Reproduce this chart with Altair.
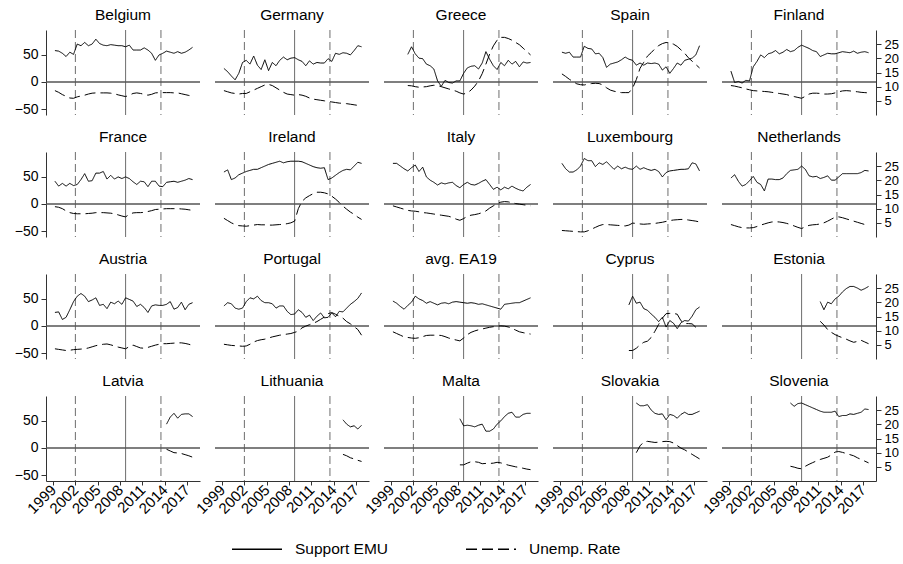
import altair as alt
import pandas as pd

FONT = "Liberation Sans"
N = None

# Half-yearly survey waves, 1999-2017
WAVES = [1999.25 + 0.5 * i for i in range(38)]
X_DOMAIN = [1998.05, 2018.75]
X_TICKS = [1999, 2002, 2005, 2008, 2011, 2014, 2017]
EVENTS_DASHED = [2002.0, 2013.5]
EVENTS_SOLID = [2008.75]

SUPPORT_TICKS = [-50, 0, 50]
UNEMP_TICKS = [5, 10, 15, 20, 25]
SUPPORT_DOMAIN = [-61, 96]
UNEMP_DOMAIN = [0, 30]

# Net support for the euro (left scale) and unemployment rate in % (right scale)
belgium_support = [58, 57, 53, 47, 55, 51, 70, 67, 73, 67, 70, 79, 71, 68, 67, 69, 68, 67, 67, 65,
                   68, 59, 59, 59, 63, 59, 53, 40, 50, 53, 57, 55, 53, 56, 53, 55, 59, 64]
belgium_unemp = [8.6, 8.0, 7.2, 6.6, 6.0, 5.9, 6.4, 6.7, 7.0, 7.4, 7.7, 7.8, 7.8, 7.8, 7.8, 7.7, 7.5, 7.1, 6.8, 6.5,
                 7.0, 7.6, 7.8, 7.6, 7.3, 7.0, 7.3, 7.8, 7.9, 7.9, 7.9, 7.9, 7.8, 7.8, 7.5, 7.2, 6.9, 6.6]

germany_support = [25, 19, 11, 4, 16, 36, 40, 33, 48, 31, 23, 41, 21, 36, 30, 40, 46, 41, 44, 45,
                   41, 38, 30, 39, 33, 36, 35, 35, 43, 38, 53, 51, 54, 53, 50, 58, 67, 65]
germany_unemp = [8.6, 8.2, 7.8, 7.6, 7.4, 7.6, 7.6, 8.2, 8.8, 9.4, 10.0, 10.6, 10.8, 10.4, 9.6, 8.8, 8.0, 7.4, 7.2, 7.0,
                 7.2, 7.0, 6.6, 6.0, 5.6, 5.4, 5.2, 5.0, 4.8, 4.6, 4.4, 4.2, 4.1, 4.0, 3.8, 3.6, 3.4, 3.2]

greece_support = [N, N, N, N, 51, 65, 52, 44, 43, 33, 30, 24, 2, -8, 3, -1, -2, 2, 2, 16,
                  26, 29, 30, 24, 35, 56, 42, 30, 23, 36, 30, 40, 33, 38, 28, 37, 35, 36]
greece_unemp = [N, N, N, N, 10.4, 10.3, 10.0, 9.8, 9.9, 10.0, 10.3, 10.5, 10.4, 10.0, 9.6, 9.2, 8.8, 8.4, 7.8, 7.4,
                7.8, 8.8, 10.2, 12.0, 14.6, 18.0, 21.5, 24.4, 26.4, 27.4, 27.4, 27.0, 26.4, 25.6, 24.8, 23.6, 22.4, 21.2]

spain_support = [55, 53, 55, 46, 46, 46, 66, 62, 61, 52, 53, 45, 27, 33, 35, 37, 41, 46, 42, 40,
                 31, 35, 31, 35, 34, 35, 33, 22, 28, 16, 25, 35, 31, 40, 42, 44, 50, 67]
spain_unemp = [14.5, 13.6, 12.6, 11.8, 11.0, 10.7, 10.6, 10.9, 11.1, 11.2, 11.1, 10.6, 9.6, 8.8, 8.4, 8.1, 7.9, 7.9, 7.9, 9.5,
               12.5, 16.5, 18.6, 20.8, 22.0, 23.4, 24.5, 25.2, 25.6, 25.4, 25.0, 24.2, 23.0, 21.8, 20.2, 19.0, 17.8, 16.6]

finland_support = [20, -1, 1, -2, 3, 2, 28, 38, 50, 45, 52, 54, 58, 52, 55, 60, 56, 58, 64, 68,
                   65, 62, 58, 56, 47, 50, 53, 52, 52, 54, 56, 55, 54, 57, 53, 55, 56, 54]
finland_unemp = [10.4, 10.2, 9.9, 9.6, 9.2, 8.9, 8.6, 8.5, 8.4, 8.3, 8.2, 8.0, 7.8, 7.6, 7.4, 7.2, 6.8, 6.5, 6.2, 5.9,
                 6.6, 7.4, 7.7, 7.7, 7.6, 7.4, 7.4, 7.5, 7.8, 8.2, 8.5, 8.6, 8.5, 8.3, 8.2, 8.0, 7.9, 7.8]

france_support = [42, 33, 38, 33, 38, 34, 36, 45, 56, 42, 43, 57, 57, 60, 46, 53, 46, 50, 47, 50,
                  47, 41, 36, 42, 41, 32, 42, 42, 33, 32, 40, 41, 42, 40, 42, 44, 47, 45]
france_unemp = [10.7, 10.5, 10.0, 9.2, 8.6, 8.3, 8.2, 8.2, 8.2, 8.3, 8.4, 8.6, 8.6, 8.6, 8.5, 8.4, 8.2, 7.8, 7.4, 7.1,
                8.0, 8.5, 8.6, 8.6, 8.7, 9.0, 9.3, 9.7, 9.8, 9.9, 10.0, 10.0, 10.0, 10.0, 9.9, 9.8, 9.6, 9.4]

ireland_support = [59, 63, 45, 48, 54, 57, 60, 62, 64, 64, 67, 70, 73, 75, 77, 79, 76, 78, 79, 79,
                   79, 78, 75, 72, 69, 67, 66, 67, 45, 48, 53, 58, 62, 64, 63, 70, 77, 75]
ireland_unemp = [6.6, 5.8, 5.0, 4.4, 4.0, 3.9, 3.8, 4.0, 4.2, 4.4, 4.3, 4.3, 4.2, 4.2, 4.3, 4.4, 4.5, 4.7, 5.0, 5.6,
                 10.0, 12.6, 13.8, 14.6, 15.3, 15.8, 15.8, 15.6, 15.2, 14.4, 13.4, 12.2, 10.9, 9.8, 8.8, 8.0, 7.0, 6.2]

italy_support = [75, 75, 70, 65, 61, 67, 72, 60, 68, 50, 44, 40, 35, 39, 37, 39, 40, 34, 30, 36,
                 40, 36, 35, 38, 42, 45, 36, 27, 31, 26, 31, 28, 33, 29, 26, 24, 31, 36]
italy_unemp = [11.0, 10.6, 10.2, 9.8, 9.4, 9.2, 9.1, 8.9, 8.6, 8.5, 8.3, 8.1, 7.9, 7.7, 7.5, 7.3, 6.9, 6.3, 5.9, 6.5,
               7.3, 7.7, 7.9, 8.2, 8.6, 9.2, 10.2, 11.0, 11.8, 12.3, 12.5, 12.4, 12.1, 11.8, 11.6, 11.4, 11.2, 11.0]

luxembourg_support = [75, 65, 59, 59, 63, 70, 84, 80, 80, 69, 76, 73, 78, 71, 64, 70, 65, 68, 65, 64,
                      70, 64, 67, 64, 62, 64, 60, 50, 58, 61, 62, 63, 64, 64, 65, 76, 74, 61]
luxembourg_unemp = [2.3, 2.2, 2.1, 2.0, 1.9, 1.8, 1.8, 2.2, 2.8, 3.4, 4.0, 4.4, 4.4, 4.3, 4.2, 4.1, 4.0, 3.9, 4.2, 4.9,
                    4.8, 4.6, 4.5, 4.6, 4.7, 4.8, 5.0, 5.2, 5.5, 5.8, 6.0, 6.1, 6.2, 6.2, 6.0, 5.8, 5.6, 5.3]

netherlands_support = [48, 54, 42, 33, 36, 43, 51, 40, 36, 24, 46, 46, 45, 45, 48, 56, 62, 63, 64, 70,
                       64, 52, 50, 51, 47, 49, 52, 44, 44, 50, 56, 56, 56, 56, 56, 58, 62, 61]
netherlands_unemp = [4.4, 4.0, 3.6, 3.3, 3.2, 3.2, 3.3, 3.7, 4.2, 4.6, 5.0, 5.3, 5.4, 5.3, 5.1, 4.8, 4.4, 3.9, 3.4, 3.0,
                     3.6, 4.1, 4.3, 4.4, 4.6, 5.0, 5.6, 6.3, 7.0, 7.1, 6.8, 6.4, 6.0, 5.6, 5.2, 4.8, 4.4, 4.1]

austria_support = [25, 26, 12, 16, 30, 45, 55, 60, 55, 45, 48, 52, 38, 40, 32, 44, 41, 46, 40, 52,
                   49, 46, 36, 40, 34, 25, 37, 39, 38, 38, 40, 45, 31, 34, 44, 30, 40, 43]
austria_unemp = [3.6, 3.4, 3.2, 3.0, 3.1, 3.3, 3.4, 3.5, 3.6, 3.9, 4.3, 4.7, 5.0, 5.2, 5.3, 5.0, 4.6, 4.2, 3.9, 3.6,
                 4.4, 4.9, 4.4, 3.9, 3.8, 4.1, 4.5, 4.9, 5.2, 5.4, 5.4, 5.5, 5.6, 5.7, 5.7, 5.5, 5.2, 4.8]

portugal_support = [37, 43, 41, 33, 31, 33, 45, 52, 50, 55, 47, 43, 43, 41, 33, 37, 37, 27, 21, 22,
                    30, 25, 16, 20, 10, 18, 24, 15, 16, 24, 17, 27, 26, 33, 40, 45, 51, 61]
portugal_unemp = [5.2, 5.0, 4.8, 4.7, 4.6, 4.5, 4.6, 5.2, 6.0, 6.5, 6.8, 7.0, 7.4, 7.8, 8.1, 8.4, 8.6, 8.8, 9.0, 9.4,
                  9.8, 11.0, 11.6, 12.1, 12.6, 13.2, 14.0, 14.8, 16.0, 16.4, 15.8, 15.1, 14.4, 13.2, 12.4, 11.4, 10.4, 8.4]

ea19_support = [46, 42, 36, 31, 38, 44, 55, 50, 47, 42, 45, 42, 39, 42, 43, 41, 44, 45, 44, 43,
                42, 43, 42, 40, 41, 39, 37, 35, 33, 31, 40, 41, 42, 43, 43, 46, 49, 52]
ea19_unemp = [9.6, 9.0, 8.4, 7.8, 7.6, 7.4, 7.3, 7.5, 7.9, 8.3, 8.4, 8.4, 8.4, 8.3, 7.9, 7.4, 7.0, 6.7, 6.4, 7.4,
              8.6, 9.4, 9.9, 10.3, 10.6, 10.9, 11.2, 11.4, 11.6, 11.7, 11.6, 11.3, 10.8, 10.2, 9.6, 9.3, 9.0, 8.8]

cyprus_support = [N] * 18 + [39, 55, 42, 44, 32, 29, 22, 16, 8, 16, -2, 10, 5, -5, 6, 10, 9, 18, 30, 35]
cyprus_unemp = [N] * 18 + [3.0, 3.0, 3.8, 5.0, 5.9, 6.3, 7.6, 9.8, 12.2, 14.4, 16.0, 16.1, 16.1, 15.8, 13.5,
                           12.5, 12.5, 12.4, 11.2, 10.0]

estonia_support = [N] * 24 + [45, 30, 44, 41, 50, 55, 63, 69, 73, 73, 70, 66, 69, 73]
estonia_unemp = [N] * 24 + [13.3, 12.0, 10.4, 9.4, 8.6, 8.0, 7.5, 7.0, 6.4, 5.9, 6.2, 6.6, 6.0, 5.4]

latvia_support = [N] * 30 + [44, 57, 64, 55, 62, 63, 63, 58]
latvia_unemp = [N] * 30 + [11.2, 10.6, 10.0, 9.9, 9.7, 9.3, 8.9, 8.4]

lithuania_support = [N] * 32 + [52, 44, 39, 41, 35, 42]
lithuania_unemp = [N] * 32 + [9.4, 8.9, 8.2, 7.8, 7.3, 6.9]

malta_support = [N] * 18 + [54, 41, 42, 41, 39, 42, 44, 31, 31, 35, 44, 50, 58, 64, 66, 57, 57, 62, 64, 64]
malta_unemp = [N] * 18 + [5.7, 5.7, 6.3, 6.8, 6.8, 6.6, 6.1, 6.2, 6.2, 6.3, 6.6, 6.4, 6.0, 5.6, 5.3, 5.0,
                          4.8, 4.5, 4.2, 4.0]

slovakia_support = [N] * 20 + [83, 78, 78, 80, 70, 64, 62, 63, 52, 62, 60, 55, 62, 66, 62, 62, 65, 68]
slovakia_unemp = [N] * 20 + [10.0, 12.4, 13.8, 14.0, 13.8, 13.6, 13.7, 13.9, 14.0, 13.9, 13.4, 12.5, 11.6,
                             11.0, 10.2, 9.4, 8.6, 7.8]

slovenia_support = [N] * 16 + [83, 77, 82, 83, 80, 77, 74, 71, 68, 66, 66, 66, 68, 58, 60, 60, 63, 62, 64,
                               66, 72, 71]
slovenia_unemp = [N] * 16 + [5.2, 4.9, 4.5, 4.3, 5.2, 5.9, 6.5, 7.1, 7.6, 8.0, 8.4, 9.2, 10.2, 10.4, 10.1,
                             9.7, 9.3, 8.9, 8.2, 7.6, 7.0, 6.4]

PANELS = [
    ("Belgium", belgium_support, belgium_unemp),
    ("Germany", germany_support, germany_unemp),
    ("Greece", greece_support, greece_unemp),
    ("Spain", spain_support, spain_unemp),
    ("Finland", finland_support, finland_unemp),
    ("France", france_support, france_unemp),
    ("Ireland", ireland_support, ireland_unemp),
    ("Italy", italy_support, italy_unemp),
    ("Luxembourg", luxembourg_support, luxembourg_unemp),
    ("Netherlands", netherlands_support, netherlands_unemp),
    ("Austria", austria_support, austria_unemp),
    ("Portugal", portugal_support, portugal_unemp),
    ("avg. EA19", ea19_support, ea19_unemp),
    ("Cyprus", cyprus_support, cyprus_unemp),
    ("Estonia", estonia_support, estonia_unemp),
    ("Latvia", latvia_support, latvia_unemp),
    ("Lithuania", lithuania_support, lithuania_unemp),
    ("Malta", malta_support, malta_unemp),
    ("Slovakia", slovakia_support, slovakia_unemp),
    ("Slovenia", slovenia_support, slovenia_unemp),
]

SERIES = ["Support EMU", "Unemp. Rate"]
N_COLS = 5
N_ROWS = 4
PANEL_W, PANEL_H = 154, 85
REF_GRAY = "#6e6e6e"

dash_scale = alt.Scale(domain=SERIES, range=[[1, 0], [11, 5]])
legend = alt.Legend(
    title=None, orient="none", direction="horizontal", legendX=185, legendY=493,
    symbolType="stroke", symbolSize=2500, symbolStrokeWidth=1.3, symbolStrokeColor="black",
    labelFont=FONT, labelFontSize=15.5, labelColor="black", labelOffset=12, columnPadding=74,
)


def make_panel(name, support, unemp, row, col):
    df = pd.DataFrame({"wave": WAVES, "support": support, "unemp": unemp})

    if row == N_ROWS - 1:
        x_axis = alt.Axis(values=X_TICKS, format="d", labelAngle=315, labelAlign="right",
                          labelBaseline="middle", labelFlush=False, labelOverlap=False,
                          labelFontSize=15, labelPadding=2, tickSize=4, ticks=True, domain=True)
    else:
        x_axis = None
    x = alt.X("wave:Q", scale=alt.Scale(domain=X_DOMAIN, nice=False, zero=False), axis=x_axis, title=None)

    left_scale = alt.Scale(domain=SUPPORT_DOMAIN, nice=False, zero=False)
    right_scale = alt.Scale(domain=UNEMP_DOMAIN, nice=False, zero=False)
    left_axis = alt.Axis(values=SUPPORT_TICKS, labelFlush=False) if col == 0 else None
    right_axis = (alt.Axis(orient="right", values=UNEMP_TICKS, labelFlush=False, labelFontSize=13)
                  if col == N_COLS - 1 else None)

    dashed_events = alt.Chart(pd.DataFrame({"wave": EVENTS_DASHED})).mark_rule(
        color=REF_GRAY, strokeWidth=1, strokeDash=[8, 4]).encode(x=x)
    solid_events = alt.Chart(pd.DataFrame({"wave": EVENTS_SOLID})).mark_rule(
        color=REF_GRAY, strokeWidth=1).encode(x=x)
    zero_line = alt.Chart(pd.DataFrame({"level": [0]})).mark_rule(
        color="#555555", strokeWidth=1.4).encode(
        y=alt.Y("level:Q", scale=left_scale, axis=left_axis, title=None))

    support_line = alt.Chart(df.assign(series=SERIES[0])).mark_line(color="black", strokeWidth=1).encode(
        x=x,
        y=alt.Y("support:Q", scale=left_scale, axis=left_axis, title=None),
        strokeDash=alt.StrokeDash("series:N", scale=dash_scale, legend=legend),
    )
    unemp_line = alt.Chart(df.assign(series=SERIES[1])).mark_line(color="black", strokeWidth=1).encode(
        x=x,
        y=alt.Y("unemp:Q", scale=right_scale, axis=right_axis, title=None),
        strokeDash=alt.StrokeDash("series:N", scale=dash_scale, legend=legend),
    )

    left_layer = alt.layer(dashed_events, solid_events, zero_line, support_line)
    return alt.layer(left_layer, unemp_line).resolve_scale(y="independent").properties(
        width=PANEL_W, height=PANEL_H, title=name)


panels = [make_panel(name, s, u, k // N_COLS, k % N_COLS) for k, (name, s, u) in enumerate(PANELS)]

chart = alt.concat(
    *panels, columns=N_COLS, spacing=alt.RowColnumber(row=37, column=15), bounds="flush"
).resolve_scale(
    x="independent", y="independent", strokeDash="shared"
).resolve_legend(
    strokeDash="shared"
).properties(
    padding={"left": 14, "top": 8, "right": 2, "bottom": 2}
).configure_view(
    stroke=None
).configure_axis(
    labelFont=FONT, labelFontSize=14, labelColor="black", domainColor="#333333",
    tickColor="#333333", tickSize=5, labelPadding=3, grid=False, domainWidth=1, tickWidth=1,
).configure_title(
    font=FONT, fontSize=15.5, fontWeight="normal", color="black", offset=6, anchor="middle"
)

chart.save("out.html", embed_options={"renderer": "svg", "actions": False})
